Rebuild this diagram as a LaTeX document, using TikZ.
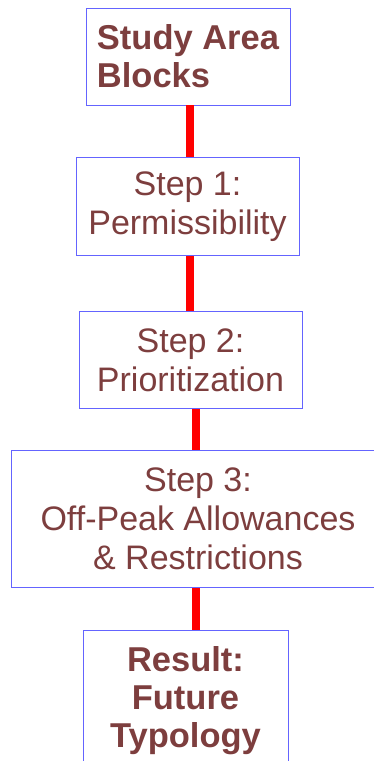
\documentclass[tikz,border=0pt]{standalone}
\usepackage{fontspec}
\setmainfont{Liberation Sans}
\usetikzlibrary{positioning}
\definecolor{boxtext}{RGB}{125,62,62}
\definecolor{boxline}{RGB}{100,100,255}

\begin{document}
\begin{tikzpicture}[x=1pt, y=-1pt,
  node distance=52pt,
  box/.style={rectangle, draw=boxline, line width=0.9pt, align=center,
              inner sep=2pt, text=boxtext,
              font=\fontsize{34}{39}\selectfont},
  boldbox/.style={box, font=\fontsize{34.5}{38}\selectfont\bfseries},
  link/.style={draw=red, line width=8pt}
]
\useasboundingbox (0,0) rectangle (374,761);
\clip (0,0) rectangle (374,761);

\node[boldbox, align=left, minimum width=204pt, minimum height=97pt] (blocks) at (188,56.5)
  {Study Area\\Blocks};
\node[box, below=52pt of blocks, xshift=-0.5pt,
      minimum width=223pt, minimum height=98pt] (perm)
  {Step 1:\\Permissibility};
\node[box, below=55pt of perm, xshift=3pt,
      minimum width=223pt, minimum height=97pt] (prio)
  {Step 2:\\Prioritization};
\node[box, below=41pt of prio, xshift=7.5pt,
      minimum width=374pt, minimum height=137pt] (offpeak)
  {Step 3:\\Off-Peak Allowances\\\& Restrictions};
\node[boldbox, below=42pt of offpeak, xshift=-12.5pt,
      minimum width=205pt, minimum height=140pt] (result)
  {Result:\\Future\\Typology};

% red links between the stages
\draw[link] ([xshift=2pt]blocks.south) -- ([xshift=2pt]blocks.south |- perm.north);
\draw[link] ([xshift=2.5pt]perm.south) -- ([xshift=2.5pt]perm.south |- prio.north);
\draw[link] ([xshift=5.5pt]prio.south) -- ([xshift=5.5pt]prio.south |- offpeak.north);
\draw[link] ([xshift=-2pt]offpeak.south) -- ([xshift=-2pt]offpeak.south |- result.north);
\end{tikzpicture}
\end{document}
